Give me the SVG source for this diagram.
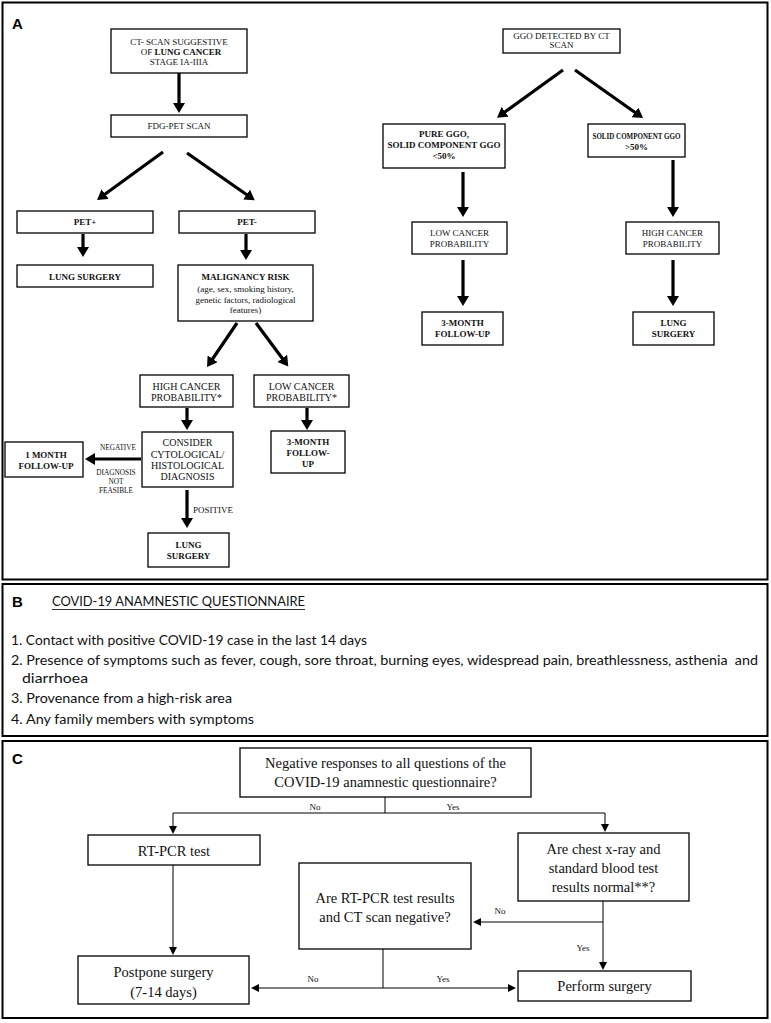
<svg xmlns="http://www.w3.org/2000/svg" width="771" height="1023" viewBox="0 0 771 1023">
<style>
.panel{fill:#fff;stroke:#000;stroke-width:2}
.box{fill:#fff;stroke:#000;stroke-width:1.3}
.t{font-family:"Liberation Serif","Times New Roman",serif;font-size:9px;text-anchor:middle;fill:#111}
.t10{font-size:10px}
.b{font-weight:bold}
.sm{font-size:7.3px}
.lab{font-family:"Liberation Sans",Arial,sans-serif;font-size:15px;font-weight:bold}
.q{font-family:Lato,"Liberation Sans",sans-serif;font-size:13.5px;fill:#111}
.c{font-family:"Liberation Serif","Times New Roman",serif;font-size:14.5px;text-anchor:middle;fill:#111}
.cl{font-family:"Liberation Serif","Times New Roman",serif;font-size:9px;text-anchor:middle;fill:#111}
.thick{stroke:#000;stroke-width:3.2;fill:none;marker-end:url(#ah)}
.thin{stroke:#000;stroke-width:1;fill:none}
.thina{stroke:#000;stroke-width:1;fill:none;marker-end:url(#sh)}
</style>
<defs>
<marker id="ah" markerUnits="userSpaceOnUse" markerWidth="12" markerHeight="12" refX="2" refY="6" orient="auto">
<path d="M0,0 L10,6 L0,12 z" fill="#000"/>
</marker>
<marker id="sh" markerUnits="userSpaceOnUse" markerWidth="9" markerHeight="8" refX="1" refY="4" orient="auto">
<path d="M0,0 L8,4 L0,8 z" fill="#000"/>
</marker>
</defs>

<rect width="771" height="1023" fill="#fff"/>
<rect class="panel" x="2.5" y="2.5" width="765" height="577"/>
<rect class="panel" x="2.5" y="584" width="765" height="152"/>
<rect class="panel" x="2.5" y="741" width="765" height="277"/>
<text class="lab" x="12" y="29">A</text>
<text class="lab" x="12" y="607">B</text>
<text class="lab" x="12" y="764">C</text>

<!-- Panel A connectors -->
<g id="connectors-a">
<line class="thick" x1="179" y1="73" x2="179" y2="105"/>
<line class="thick" x1="163" y1="152" x2="103.5" y2="195.3"/>
<line class="thick" x1="187" y1="153" x2="248.2" y2="195.7"/>
<line class="thick" x1="83" y1="234" x2="83" y2="249"/>
<line class="thick" x1="246" y1="234" x2="246" y2="252"/>
<line class="thick" x1="237" y1="323" x2="211.5" y2="360.5"/>
<line class="thick" x1="256" y1="323" x2="283.5" y2="360"/>
<line class="thick" x1="187" y1="408" x2="187" y2="422"/>
<line class="thick" x1="307" y1="408" x2="307" y2="422"/>
<line class="thick" x1="141" y1="459" x2="93" y2="459"/>
<line class="thick" x1="187" y1="490" x2="187" y2="520"/>
<line class="thick" x1="563" y1="70" x2="503.5" y2="113"/>
<line class="thick" x1="575" y1="70" x2="636.5" y2="113.5"/>
<line class="thick" x1="463" y1="172" x2="463" y2="209"/>
<line class="thick" x1="673" y1="160" x2="673" y2="209"/>
<line class="thick" x1="463" y1="260" x2="463" y2="298"/>
<line class="thick" x1="673" y1="260" x2="673" y2="298"/>
</g>

<g id="n-ct">
<rect class="box" x="111" y="29" width="136" height="44"/>
<text class="t" x="179" y="45">CT- SCAN SUGGESTIVE</text>
<text class="t" x="181" y="55">OF <tspan class="b">LUNG CANCER</tspan></text>
<text class="t" x="179" y="65">STAGE IA-IIIA</text>
</g>
<g id="n-fdg">
<rect class="box" x="111" y="115" width="136" height="22"/>
<text class="t" x="179" y="129">FDG-PET SCAN</text>
</g>
<g id="n-petpos">
<rect class="box" x="17" y="211" width="136" height="22"/>
<text class="t b" x="85" y="225">PET+</text>
</g>
<g id="n-petneg">
<rect class="box" x="179" y="211" width="136" height="22"/>
<text class="t b" x="247" y="225">PET-</text>
</g>
<g id="n-surg1">
<rect class="box" x="17" y="265" width="136" height="22"/>
<text class="t b" x="85" y="280">LUNG SURGERY</text>
</g>
<g id="n-malig">
<rect class="box" x="178" y="265" width="135" height="56"/>
<text class="t b" x="245.5" y="280">MALIGNANCY RISK</text>
<text class="t" x="245.5" y="292">(age, sex, smoking history,</text>
<text class="t" x="245.5" y="303">genetic factors, radiological</text>
<text class="t" x="245.5" y="313">features)</text>
</g>
<g id="n-high">
<rect class="box" x="140" y="375" width="93" height="32"/>
<text class="t t10" x="186.5" y="390">HIGH CANCER</text>
<text class="t t10" x="186.5" y="401">PROBABILITY*</text>
</g>
<g id="n-low">
<rect class="box" x="254" y="375" width="95" height="32"/>
<text class="t t10" x="301.5" y="390">LOW CANCER</text>
<text class="t t10" x="301.5" y="401">PROBABILITY*</text>
</g>
<g id="n-consider">
<rect class="box" x="142" y="432" width="91" height="55"/>
<text class="t t10" x="187.5" y="446">CONSIDER</text>
<text class="t t10" x="187.5" y="458">CYTOLOGICAL/</text>
<text class="t t10" x="187.5" y="469">HISTOLOGICAL</text>
<text class="t t10" x="187.5" y="480">DIAGNOSIS</text>
</g>
<g id="n-1month">
<rect class="box" x="5" y="442" width="78" height="35"/>
<text class="t b" x="46" y="458">1 MONTH</text>
<text class="t b" x="46" y="469">FOLLOW-UP</text>
</g>
<g id="l-a">
<text class="t sm" x="118" y="450">NEGATIVE</text>
<text class="t sm" x="116" y="475">DIAGNOSIS</text>
<text class="t sm" x="116" y="484">NOT</text>
<text class="t sm" x="116" y="493">FEASIBLE</text>
<text class="t" x="193" y="513" style="text-anchor:start">POSITIVE</text>
</g>
<g id="n-surg2">
<rect class="box" x="148" y="533" width="81" height="34"/>
<text class="t b" x="188.5" y="548">LUNG</text>
<text class="t b" x="188.5" y="559">SURGERY</text>
</g>
<g id="n-3m1">
<rect class="box" x="271" y="431" width="74" height="42"/>
<text class="t b" x="308" y="445">3-MONTH</text>
<text class="t b" x="308" y="456">FOLLOW-</text>
<text class="t b" x="308" y="467">UP</text>
</g>

<g id="n-ggo">
<rect class="box" x="503" y="29" width="117" height="24"/>
<text class="t" x="561.5" y="38.5">GGO DETECTED BY CT</text>
<text class="t" x="561.5" y="48">SCAN</text>
</g>
<g id="n-pure">
<rect class="box" x="383" y="124" width="122" height="44"/>
<text class="t b" x="444" y="137">PURE GGO,</text>
<text class="t b" x="444" y="148">SOLID COMPONENT GGO</text>
<text class="t b" x="444" y="159">&lt;50%</text>
</g>
<g id="n-solid">
<rect class="box" x="588" y="124" width="97" height="33"/>
<text class="t b" x="636.5" y="139" textLength="88" lengthAdjust="spacingAndGlyphs">SOLID COMPONENT GGO</text>
<text class="t b" x="636.5" y="150">&gt;50%</text>
</g>
<g id="n-lowr">
<rect class="box" x="412" y="222" width="95" height="32"/>
<text class="t" x="459.5" y="236">LOW CANCER</text>
<text class="t" x="459.5" y="247">PROBABILITY</text>
</g>
<g id="n-highr">
<rect class="box" x="626" y="222" width="93" height="32"/>
<text class="t" x="672.5" y="236">HIGH CANCER</text>
<text class="t" x="672.5" y="247">PROBABILITY</text>
</g>
<g id="n-3m2">
<rect class="box" x="422" y="312" width="81" height="33"/>
<text class="t b" x="462.5" y="326">3-MONTH</text>
<text class="t b" x="462.5" y="337">FOLLOW-UP</text>
</g>
<g id="n-surg3">
<rect class="box" x="633" y="312" width="81" height="33"/>
<text class="t b" x="673.5" y="326">LUNG</text>
<text class="t b" x="673.5" y="337">SURGERY</text>
</g>

<!-- Panel B -->
<g id="questionnaire">
<text class="q" x="52" y="606" textLength="253" lengthAdjust="spacingAndGlyphs">COVID-19 ANAMNESTIC QUESTIONNAIRE</text>
<line x1="52" y1="609.5" x2="305" y2="609.5" stroke="#333" stroke-width="1"/>
<text class="q" x="11" y="645" textLength="356" lengthAdjust="spacingAndGlyphs">1. Contact with positive COVID-19 case in the last 14 days</text>
<text class="q" x="11" y="665" textLength="747" lengthAdjust="spacingAndGlyphs" xml:space="preserve">2. Presence of symptoms such as fever, cough, sore throat, burning eyes, widespread pain, breathlessness, asthenia  and</text>
<text class="q" x="22" y="683" textLength="66" lengthAdjust="spacingAndGlyphs">diarrhoea</text>
<text class="q" x="11" y="703" textLength="221" lengthAdjust="spacingAndGlyphs">3. Provenance from a high-risk area</text>
<text class="q" x="11" y="724" textLength="243" lengthAdjust="spacingAndGlyphs">4. Any family members with symptoms</text>
</g>

<!-- Panel C connectors -->
<g id="connectors-c">
<path class="thin" d="M385,797 V813 M173,813 H605 M383,949 V988"/>
<line class="thina" x1="173" y1="813" x2="173" y2="827"/>
<line class="thina" x1="605" y1="813" x2="605" y2="825"/>
<line class="thina" x1="173" y1="865" x2="173" y2="948"/>
<line class="thina" x1="603" y1="901" x2="603" y2="963"/>
<line class="thina" x1="603" y1="922" x2="480" y2="922"/>
<line class="thina" x1="383" y1="988" x2="258" y2="988"/>
<line class="thina" x1="383" y1="988" x2="509" y2="988"/>
<text class="cl" x="315" y="810">No</text>
<text class="cl" x="453" y="810">Yes</text>
<text class="cl" x="500" y="914">No</text>
<text class="cl" x="583" y="951">Yes</text>
<text class="cl" x="313" y="982">No</text>
<text class="cl" x="443" y="982">Yes</text>
</g>
<g id="n-neg">
<rect class="box" x="240" y="748" width="291" height="49"/>
<text class="c" x="385.5" y="768">Negative responses to all questions of the</text>
<text class="c" x="385.5" y="787">COVID-19 anamnestic questionnaire?</text>
</g>
<g id="n-rtpcr">
<rect class="box" x="88" y="835" width="172" height="30"/>
<text class="c" x="174" y="856">RT-PCR test</text>
</g>
<g id="n-chest">
<rect class="box" x="518" y="833" width="171" height="68"/>
<text class="c" x="603.5" y="854">Are chest x-ray and</text>
<text class="c" x="603.5" y="873">standard blood test</text>
<text class="c" x="603.5" y="892">results normal**?</text>
</g>
<g id="n-rtq">
<rect class="box" x="299" y="863" width="172" height="86"/>
<text class="c" x="385" y="903">Are RT-PCR test results</text>
<text class="c" x="385" y="922">and CT scan negative?</text>
</g>
<g id="n-postpone">
<rect class="box" x="78" y="956" width="171" height="48"/>
<text class="c" x="163.5" y="977">Postpone surgery</text>
<text class="c" x="163.5" y="997">(7-14 days)</text>
</g>
<g id="n-perform">
<rect class="box" x="518" y="971" width="173" height="30"/>
<text class="c" x="604.5" y="991">Perform surgery</text>
</g>
</svg>
